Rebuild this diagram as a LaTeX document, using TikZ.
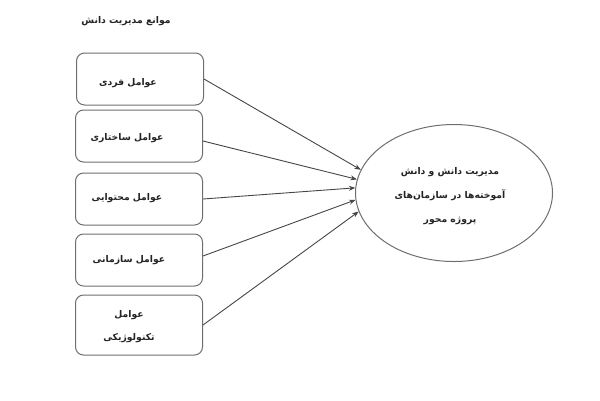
\documentclass[tikz,border=0pt]{standalone}
\usepackage{fontspec}
\usetikzlibrary{shapes.geometric,arrows.meta}
\TeXXeTstate=1
\newfontfamily\arabicfont[Script=Arabic]{DejaVu Sans}
\definecolor{boxgray}{RGB}{110,110,110}
\definecolor{arrgray}{RGB}{70,70,70}
\definecolor{txtgray}{RGB}{35,35,35}
\tikzset{
  factorbox/.style={draw=boxgray, line width=1bp, rounded corners=8bp, minimum width=127bp, inner sep=0pt},
  factortext/.style={font=\arabicfont\bfseries\fontsize{9.3}{23}\selectfont, text=txtgray, align=center, inner sep=0pt},
  link/.style={draw=arrgray, line width=0.9bp, -{Stealth[length=6.5bp,width=5bp]}},
  goal/.style={ellipse, draw=boxgray, line width=1bp, minimum width=197bp, minimum height=137bp, inner sep=0pt}
}
\begin{document}
\begin{tikzpicture}[x=1bp,y=-1bp]
\useasboundingbox (0,0) rectangle (600,400);
\node[factortext] (title) at (126,21) {\beginR موانع مدیریت دانش\endR};
\node[factorbox, minimum height=52bp] (b1) at (140,79) {};
\node[factorbox, minimum height=52bp] (b2) at (139,136) {};
\node[factorbox, minimum height=52bp] (b3) at (139,199) {};
\node[factorbox, minimum height=52bp] (b4) at (139,260) {};
\node[factorbox, minimum height=60bp] (b5) at (139,325) {};
\node[factortext] (t1) at (128,83) {\beginR عوامل فردی\endR};
\node[factortext] (t2) at (127,138) {\beginR عوامل ساختاری\endR};
\node[factortext] (t3) at (127,198) {\beginR عوامل محتوایی\endR};
\node[factortext] (t4) at (129,260) {\beginR عوامل سازمانی\endR};
\node[factortext] (t5) at (129,327) {\beginR عوامل\endR\\\beginR تکنولوژیکی\endR};
\node[goal] (g) at (454,193) {};
\node[factortext, font=\arabicfont\bfseries\fontsize{9.3}{24}\selectfont] (gt) at (450,196) {\beginR مدیریت دانش و دانش\endR\\\beginR آموخته‌ها در سازمان‌های\endR\\\beginR پروژه محور\endR};
\draw[link] (b1.east) -- (g.166);
\draw[link] ([yshift=-5bp]b2.east) -- (g.172);
\draw[link] (b3.east) -- (g.177);
\draw[link] ([yshift=4bp]b4.east) -- (g.184);
\draw[link] (b5.east) -- (g.191);
\end{tikzpicture}
\end{document}
